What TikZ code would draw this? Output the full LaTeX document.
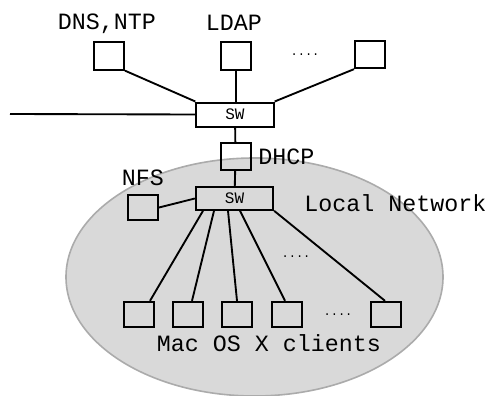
\documentclass[tikz,border=0pt]{standalone}
\usepackage{fontspec}
\setmonofont{Liberation Mono}
\usetikzlibrary{calc}

\begin{document}
\begin{tikzpicture}[x=0.75pt,y=0.75pt,yscale=-1,xscale=1,
  host/.style={draw, line width=1.5pt, minimum width=22.5pt, minimum height=20.5pt, inner sep=0pt},
  switch/.style={draw, line width=1.5pt, minimum width=58pt, minimum height=18pt, inner sep=0pt,
    font=\ttfamily\fontsize{12}{14}\selectfont},
  lbl/.style={inner sep=0.75pt, font=\ttfamily\fontsize{17.5}{20}\selectfont},
  dots/.style={inner sep=0pt, font=\ttfamily\fontsize{9}{10}\selectfont},
  wire/.style={line width=1.4pt}]
\useasboundingbox (0,0) rectangle (493,396);

% Local network area
\draw [fill=black!15, draw=black!33, line width=1.2pt] (254.5,277) ellipse [x radius=188.5, y radius=119];

% Switches
\node [switch] (sw1) at (235,114.5) {SW};
\node [switch, minimum height=17pt] (sw2) at (234.5,198.5) {SW};

% Servers
\node [host] (dns) at (109,56) {};
\node [host] (ldap) at (236,56) {};
\node [host] (ext) at (370,54.5) {};
\node [host] (dhcp) at (235.5,156.5) {};
\node [host, minimum height=19pt] (nfs) at (143,207.5) {};

% Clients
\foreach \i/\x in {1/139,2/188,3/237,4/287,5/386}
  \node [host, minimum height=19pt] (c\i) at (\x,314.5) {};

% Text Node
\node [lbl] (dnslbl) at (107,23.5) {DNS,NTP};
\node [lbl] (ldaplbl) at (234,23) {LDAP};
\node [lbl, anchor=west] (dhcplbl) at (257,157) {DHCP};
\node [lbl] (nfslbl) at (143,178) {NFS};
\node [lbl, anchor=west] (lanlbl) at (303,203) {Local Network};
\node [lbl] (cltlbl) at (269,343) {Mac OS X clients};
\node [dots] (d1) at (305,55) {....};
\node [dots] (d2) at (296,257) {....};
\node [dots] (d3) at (338,315) {....};

% Straight Lines
\coordinate (wan) at (10,114);
\draw [wire] (wan) -- (sw1.west);
\draw [wire] (dns.south east) -- (sw1.north west);
\draw [wire] (ldap) -- (ldap |- sw1.north);
\draw [wire] (ext.south west) -- (sw1.north east);
\draw [wire] (sw1) -- (dhcp) -- (sw2);
\draw [wire] (nfs.east) -- (sw2.west);
\draw [wire] ($(sw2.south)+(-31.5,0)$) -- ($(c1.north)+(11,0)$);
\draw [wire] ($(sw2.south)+(-20.5,0)$) -- ($(c2.north)+(4,0)$);
\draw [wire] ($(sw2.south)+(-6.5,0)$) -- (c3.north);
\draw [wire] ($(sw2.south)+(5.5,0)$) -- ($(c4.north)+(-2,0)$);
\draw [wire] (sw2.south east) -- ($(c5.north)+(-1,0)$);

\end{tikzpicture}
\end{document}
